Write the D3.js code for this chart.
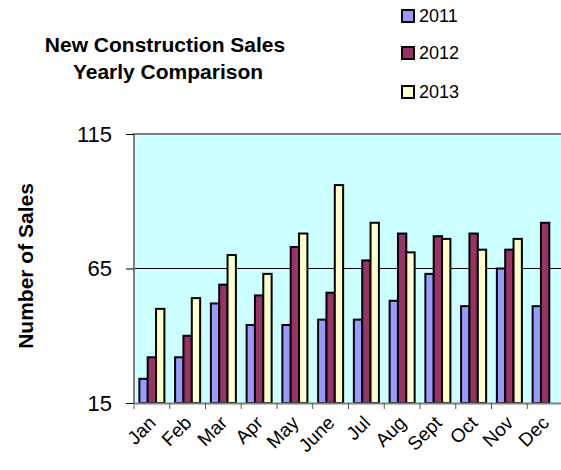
<!DOCTYPE html>
<meta charset="utf-8">
<style>
    body { margin: 0; background: #fff; }
    text { font-family: Arial, "Liberation Sans", sans-serif; }
</style>
<body>
<div id="chart"></div>
<script src="https://d3js.org/d3.v7.min.js"></script>
<script>
    var months = ["Jan", "Feb", "Mar", "Apr", "May", "June", "Jul", "Aug", "Sept", "Oct", "Nov", "Dec"];
    var years = ["2011", "2012", "2013"];
    var sales2011 = [24, 32, 52, 44, 44, 46, 46, 53, 63, 51, 65, 51];
    var sales2012 = [32, 40, 59, 55, 73, 56, 68, 78, 77, 78, 72, 82];
    var sales2013 = [50, 54, 70, 63, 78, 96, 82, 71, 76, 72, 76, null];
    var yTicks = [15, 65, 115];
    var colors = ["#9999ff", "#993366", "#ffffcc"];

    var width = 561, height = 470;
    var plot = {left: 134, top: 134, right: 563, bottom: 403};

    var svg = d3.select("#chart").append("svg")
        .attr("width", width)
        .attr("height", height);

    var x = d3.scaleBand().domain(months)
        .range([plot.left, plot.right])
        .paddingInner(0.3)
        .paddingOuter(0.15);
    var xs = d3.scaleBand().domain(years).range([0, x.bandwidth()]);
    var y = d3.scaleLinear().domain([15, 115]).range([plot.bottom, plot.top]);

    var series = [sales2011, sales2012, sales2013];

    // plot background
    svg.append("rect")
        .attr("x", plot.left).attr("y", plot.top)
        .attr("width", plot.right - plot.left).attr("height", plot.bottom - plot.top)
        .attr("fill", "#ccffff");

    // gridline at 65
    svg.append("line")
        .attr("x1", plot.left).attr("x2", plot.right)
        .attr("y1", y(65)).attr("y2", y(65))
        .attr("stroke", "#000").attr("stroke-width", 1);

    // bars
    years.forEach(function(yr, i) {
        svg.append("g").selectAll("rect")
            .data(months.map(function(m, j) { return {m: m, v: series[i][j]}; }).filter(function(d) { return d.v != null; }))
            .enter().append("rect")
            .attr("x", function(d) { return x(d.m) + xs(yr); })
            .attr("y", function(d) { return y(d.v); })
            .attr("width", xs.bandwidth())
            .attr("height", function(d) { return y(15) - y(d.v); })
            .attr("fill", colors[i])
            .attr("stroke", "#000")
            .attr("stroke-width", 2);
    });

    // plot border (top and left, gray)
    svg.append("path")
        .attr("d", "M" + plot.left + "," + plot.bottom + "V" + plot.top + "H" + plot.right)
        .attr("fill", "none").attr("stroke", "#808080").attr("stroke-width", 2);

    // y axis
    var yAxis = svg.append("g")
        .attr("transform", "translate(" + plot.left + ",0)")
        .call(d3.axisLeft(y).tickValues(yTicks).tickSize(8).tickPadding(14));
    yAxis.select(".domain").remove();
    yAxis.selectAll("line").attr("stroke", "#000");
    yAxis.selectAll("text").attr("font-size", 22).attr("font-family", "Arial, 'Liberation Sans', sans-serif").attr("fill", "#000");

    // x axis
    var xAxis = svg.append("g")
        .attr("transform", "translate(0," + plot.bottom + ")")
        .call(d3.axisBottom(x).tickSize(0));
    xAxis.select(".domain").attr("stroke", "#808080").attr("stroke-width", 2);
    xAxis.selectAll(".tick text")
        .attr("font-size", 19)
        .attr("font-family", "Arial, 'Liberation Sans', sans-serif")
        .attr("fill", "#000")
        .attr("text-anchor", "end")
        .attr("y", 0).attr("dy", 0)
        .attr("transform", "translate(5,21) rotate(-45)");

    // tick marks between categories
    var step = x.step();
    var bounds = months.map(function(m) { return x(m) - step * x.paddingInner() / 2; });
    svg.append("g").selectAll("line")
        .data(bounds)
        .enter().append("line")
        .attr("x1", function(d) { return d; }).attr("x2", function(d) { return d; })
        .attr("y1", plot.bottom).attr("y2", plot.bottom + 6)
        .attr("stroke", "#555").attr("stroke-width", 1);

    // y title
    svg.append("text")
        .attr("transform", "translate(33,266) rotate(-90)")
        .attr("text-anchor", "middle")
        .attr("font-size", 21).attr("font-weight", "bold")
        .text("Number of Sales");

    // chart title
    var title = svg.append("text")
        .attr("text-anchor", "middle")
        .attr("font-size", 21).attr("font-weight", "bold");
    title.append("tspan").attr("x", 165).attr("y", 52).text("New Construction Sales");
    title.append("tspan").attr("x", 168).attr("y", 79).text("Yearly Comparison");

    // legend
    var legend = svg.append("g").selectAll("g")
        .data(years)
        .enter().append("g")
        .attr("transform", function(d, i) { return "translate(402," + [16, 53, 92][i] + ")"; });
    legend.append("rect")
        .attr("x", 0).attr("y", -6).attr("width", 12).attr("height", 12)
        .attr("fill", function(d, i) { return colors[i]; })
        .attr("stroke", "#000").attr("stroke-width", 2);
    legend.append("text")
        .attr("x", 17).attr("y", 0).attr("dy", "0.35em")
        .attr("font-size", 18)
        .text(function(d) { return d; });
</script>
</body>
